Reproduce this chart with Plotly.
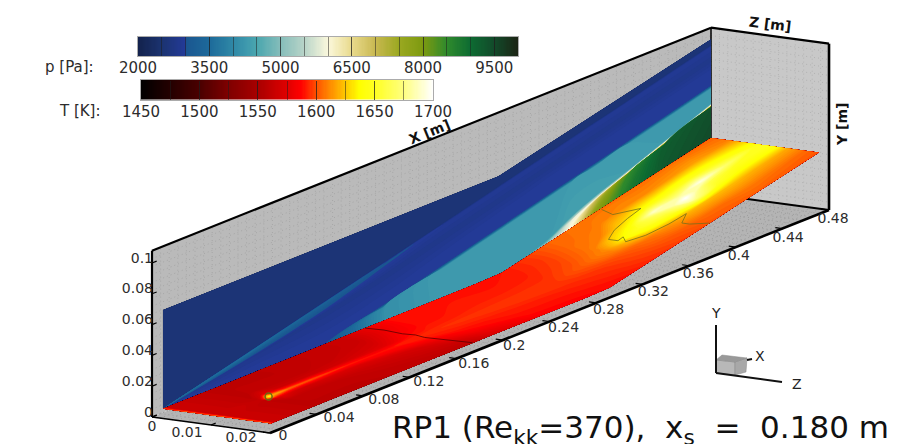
import numpy as np
import plotly.graph_objects as go

# ---------- colour tables (value, colour) ----------
P_MIN, P_MAX = 2000, 10000
T_MIN, T_MAX = 1450, 1700
P_STOPS = [(2000, "#13224c"), (2500, "#1b3370"), (3000, "#233a98"), (3001, "#1a5590"), (3500, "#1d6a9a"),
           (4000, "#2f88a6"), (4300, "#3f9aae"), (4500, "#4aa6ae"), (5000, "#85bdba"), (5500, "#b8d4c8"),
           (6000, "#fbf8dc"), (6500, "#e9da8c"), (7000, "#c8b850"), (7500, "#9aa820"), (8000, "#7d9a10"),
           (8500, "#2f8a2c"), (9000, "#0d6b32"), (9500, "#124a2a"), (10000, "#1c2414")]
T_STOPS = [(1450, "#000000"), (1475, "#240000"), (1500, "#4a0000"), (1525, "#7f0000"), (1550, "#a80000"),
           (1575, "#e00000"), (1587, "#ff0000"), (1600, "#ff5000"), (1612, "#ff8c00"), (1625, "#ffc800"),
           (1637, "#ffff00"), (1650, "#ffff20"), (1675, "#ffff80"), (1700, "#ffffff")]

# ---------- box and surface geometry (metres) ----------
BOX_X = 0.48
BOX_Y = 0.108
BOX_Z = 0.02
FLOOR_X_KNOTS = [0.0094, 0.2975, 0.48]
FLOOR_Y_KNOTS = [0.0025, 0.0025, 0.0364]

# ---------- wall slice: pressure along X stations, rows from the floor to the slice top ----------
WALL_X = [0.0094, 0.08, 0.15, 0.20, 0.25, 0.2975, 0.32, 0.34, 0.36, 0.38, 0.41, 0.44, 0.48]
WALL_Y = [
    [.00250, .0025, .0025, .0025, .0025, .0025, .0067, .0104, .0141, .0179, .0234, .0290, .0364],
    [.00251, .0026, .0026, .0026, .0026, .0026, .0068, .0107, .0155, .0250, .0348, .0440, .0562],
    [.00252, .0027, .0027, .0027, .0027, .0027, .0069, .0113, .0185, .0262, .0358, .0452, .0574],
    [.00253, .0028, .0028, .0028, .0028, .0028, .0071, .0130, .0215, .0285, .0372, .0463, .0586],
    [.00254, .0030, .0031, .0110, .0212, .0309, .0355, .0396, .0437, .0478, .0540, .0601, .0683],
    [.00255, .0031, .0032, .0130, .0232, .0329, .0375, .0416, .0457, .0498, .0560, .0621, .0703],
    [.00256, .0066, .0110, .0200, .0320, .0430, .0480, .0530, .0570, .0610, .0670, .0730, .0810],
    [.00257, .0120, .0230, .0315, .0412, .0505, .0550, .0590, .0630, .0670, .0730, .0790, .0870],
    [.00258, .0160, .0298, .0396, .0495, .0590, .0635, .0676, .0716, .0756, .0816, .0876, .0956],
    [.00259, .0166, .0307, .0407, .0507, .0602, .0647, .0688, .0728, .0768, .0828, .0888, .0968],
    [.0666, .0666, .0666, .0666, .0666, .0666, .0708, .0745, .0782, .0820, .0875, .0931, .1005],
]
WALL_P = [
    [3000, 3000, 3000, 4100, 4350, 4350, 4500, 5600, 6000, 7800, 8800, 9300, 9500],
    [3000, 3000, 3000, 4100, 4350, 4350, 4500, 5200, 6000, 7000, 8500, 9200, 9400],
    [3000, 3000, 3000, 4100, 4350, 4350, 4400, 4900, 5900, 6000, 6000, 6000, 6000],
    [3000, 3000, 3000, 4100, 4300, 4300, 4300, 4300, 4400, 4400, 4350, 4300, 4300],
    [3000, 3000, 3000, 4100, 4300, 4300, 4300, 4300, 4300, 4300, 4300, 4300, 4300],
    [3000, 3000, 3000, 3000, 3000, 3000, 3000, 3000, 3000, 3000, 3000, 3000, 3000],
    [2950, 2950, 2950, 2950, 2950, 2950, 2950, 2950, 2950, 2950, 2950, 2950, 2950],
    [2850, 2850, 2820, 2820, 2820, 2820, 2820, 2820, 2820, 2820, 2820, 2820, 2820],
    [3700, 3600, 3300, 3050, 2950, 2950, 2950, 2950, 2950, 2950, 2950, 2950, 2950],
    [2560, 2560, 2560, 2560, 2560, 2560, 2560, 2560, 2560, 2560, 2560, 2560, 2560],
    [2560, 2560, 2560, 2560, 2560, 2560, 2560, 2560, 2560, 2560, 2560, 2560, 2560],
]

# ---------- floor slice: temperature, one row per Z, one column per X ----------
FLOOR_X = [0.0094, 0.012, 0.02, 0.045, 0.052, 0.056, 0.07, 0.09, 0.12, 0.16, 0.18, 0.20, 0.24, 0.28, 0.30,
           0.32, 0.34, 0.355, 0.37, 0.39, 0.41, 0.43, 0.45, 0.48]
FLOOR_Z = [0.0, 0.003, 0.006, 0.008, 0.0095, 0.011, 0.013, 0.016, 0.0183]
FLOOR_T = [
    [1605, 1565, 1565, 1560, 1560, 1560, 1560, 1560, 1562, 1565, 1578, 1588, 1590, 1590, 1590, 1596, 1604, 1606, 1607, 1607, 1606, 1606, 1606, 1604],
    [1605, 1565, 1565, 1560, 1560, 1560, 1560, 1560, 1562, 1565, 1578, 1588, 1590, 1590, 1591, 1596, 1605, 1607, 1609, 1612, 1612, 1614, 1616, 1610],
    [1605, 1565, 1565, 1560, 1560, 1561, 1561, 1561, 1563, 1570, 1583, 1589, 1591, 1592, 1593, 1598, 1607, 1610, 1625, 1640, 1645, 1650, 1645, 1632],
    [1605, 1565, 1565, 1560, 1568, 1575, 1566, 1566, 1568, 1575, 1588, 1591, 1593, 1594, 1595, 1600, 1609, 1628, 1640, 1690, 1675, 1695, 1672, 1645],
    [1605, 1565, 1565, 1563, 1640, 1620, 1605, 1600, 1592, 1590, 1592, 1594, 1595, 1596, 1596, 1602, 1611, 1635, 1650, 1665, 1700, 1660, 1650, 1650],
    [1605, 1565, 1565, 1560, 1568, 1575, 1568, 1570, 1572, 1585, 1590, 1592, 1594, 1595, 1595, 1600, 1609, 1622, 1640, 1650, 1680, 1650, 1640, 1640],
    [1605, 1565, 1565, 1560, 1560, 1561, 1561, 1562, 1565, 1570, 1580, 1589, 1591, 1592, 1593, 1596, 1601, 1606, 1612, 1620, 1622, 1622, 1620, 1618],
    [1605, 1565, 1565, 1560, 1560, 1560, 1560, 1560, 1561, 1564, 1566, 1578, 1589, 1589, 1590, 1593, 1597, 1600, 1602, 1605, 1606, 1608, 1607, 1605],
    [1605, 1570, 1565, 1560, 1560, 1560, 1560, 1560, 1560, 1560, 1560, 1570, 1584, 1587, 1588, 1590, 1594, 1596, 1598, 1601, 1602, 1603, 1602, 1601],
]

# ---------- contour lines on the floor ----------
TRANSITION_X = [0.183, 0.184, 0.182, 0.183, 0.181, 0.182, 0.183]
TRANSITION_Z = [0.0, 0.003, 0.0065, 0.0085, 0.0105, 0.014, 0.0182]
HOT_X = [.385, .381, .392, .379, .364, .353, .353, .358, .353, .363, .379, .393, .382, .382, .386]
HOT_Z = [.0002, .0029, .0055, .0058, .0065, .0077, .0093, .0092, .0106, .012, .0128, .013, .0144, .0157, .0183]
TRIP_X = [0.052]
TRIP_Z = [0.0095]

# ---------- axis labels ----------
X_TICKS = [0, 0.04, 0.08, 0.12, 0.16, 0.2, 0.24, 0.28, 0.32, 0.36, 0.4, 0.44, 0.48]
Y_TICKS = [0, 0.02, 0.04, 0.06, 0.08, 0.1]
Z_TICKS = [0, 0.01, 0.02]
P_TICKS = [2000, 3500, 5000, 6500, 8000, 9500]
T_TICKS = [1450, 1500, 1550, 1600, 1650, 1700]
TITLE = "RP1 (Re<sub>kk</sub>=370),\u00a0 x<sub>s</sub> \u00a0=\u00a0 0.180 m"

FONT = "DejaVu Sans"
W, H = 904, 444


def project(X, Y, Z):
    """Oblique view of the measuring box on the page."""
    X, Y, Z = np.broadcast_arrays(np.asarray(X, float), np.asarray(Y, float), np.asarray(Z, float))
    return 152 + X * 1164.6 + Z * 5900, 417 - X * 464.6 + Z * 800 - Y * 1540


def norm_scale(stops, lo, hi):
    return [[(v - lo) / (hi - lo), c] for v, c in stops]


def path_of(pts, close=True):
    xs, ys = project(*np.array(pts).T)
    s = "M" + " L".join(f"{a:.1f},{b:.1f}" for a, b in zip(xs, ys))
    return s + (" Z" if close else "")


def face(pts, color):
    return dict(type="path", xref="x", yref="y", layer="below", path=path_of(pts), fillcolor=color, line=dict(width=0))


def back_edge(p, q, width):
    return dict(type="path", xref="x", yref="y", layer="below", path=path_of([p, q], False), line=dict(color="#000", width=width))


def dotted(lines, color):
    return dict(type="path", xref="x", yref="y", layer="below", path=" ".join(path_of(l, False) for l in lines),
                line=dict(color=color, width=1, dash="1px,3px"))


def seg(p, q, width=2.0, color="#000000"):
    xs, ys = project(*np.array([p, q]).T)
    return go.Scatter(x=xs, y=ys, mode="lines", line=dict(color=color, width=width), hoverinfo="skip", showlegend=False)


def labels(xs, ys, texts, pos, size=14, color="#2c2c2c"):
    return go.Scatter(x=xs, y=ys, text=texts, mode="text", textposition=pos, cliponaxis=False,
                      textfont=dict(family=FONT, size=size, color=color), hoverinfo="skip", showlegend=False)


fig = go.Figure()

# dotted mesh on the faces
gx = np.linspace(0, BOX_X, 66)
gy = np.linspace(0, BOX_Y, 22)
gz = np.linspace(0, BOX_Z, 15)
wall_lines = [((x, 0, 0), (x, BOX_Y, 0)) for x in gx] + [((0, y, 0), (BOX_X, y, 0)) for y in gy]
right_lines = [((BOX_X, 0, z), (BOX_X, BOX_Y, z)) for z in gz] + [((BOX_X, y, 0), (BOX_X, y, BOX_Z)) for y in gy]
floor_lines = [((x, 0, 0), (x, 0, BOX_Z)) for x in gx] + [((0, 0, z), (BOX_X, 0, z)) for z in gz]

below_shapes = [
    face([(0, 0, 0), (BOX_X, 0, 0), (BOX_X, BOX_Y, 0), (0, BOX_Y, 0)], "#bababa"),
    face([(BOX_X, 0, 0), (BOX_X, 0, BOX_Z), (BOX_X, BOX_Y, BOX_Z), (BOX_X, BOX_Y, 0)], "#c8c8c8"),
    face([(0, 0, 0), (0, 0, BOX_Z), (BOX_X, 0, BOX_Z), (BOX_X, 0, 0)], "#b4b4b4"),
    dotted(wall_lines, "#a6a6a6"),
    dotted(right_lines, "#b2b2b2"),
    dotted(floor_lines, "#9c9c9c"),
    back_edge((BOX_X, 0, 0), (BOX_X, 0, BOX_Z), 2),
    back_edge((BOX_X, 0, 0), (BOX_X, BOX_Y, 0), 1.5),
    back_edge((0, 0, 0), (0, 0, BOX_Z), 1.5),
]

# wall slice (pressure)
wx, wy = project(np.array([WALL_X] * len(WALL_Y)), np.array(WALL_Y), 0.0)
row_index = list(range(len(WALL_Y)))
hidden_axis = dict(smoothing=0, showgrid=False, showline=False, showticklabels="none",
                   startline=False, endline=False, minorgridcount=0)
fig.add_trace(go.Carpet(carpet="wall", a=WALL_X, b=row_index, x=wx.tolist(), y=wy.tolist(),
                        aaxis=hidden_axis, baxis=hidden_axis))
fig.add_trace(go.Contourcarpet(carpet="wall", a=WALL_X, b=row_index, z=WALL_P, autocontour=False,
                               zmin=P_MIN, zmax=P_MAX, colorscale=norm_scale(P_STOPS, P_MIN, P_MAX),
                               contours=dict(start=2000, end=10000, size=50, coloring="fill", showlines=False),
                               line=dict(width=0), showscale=False))

# floor slice (temperature)
fy_line = np.interp(FLOOR_X, FLOOR_X_KNOTS, FLOOR_Y_KNOTS)
XX, ZZ = np.meshgrid(FLOOR_X, FLOOR_Z)
YY = np.tile(fy_line, (len(FLOOR_Z), 1))
fx, fy = project(XX, YY, ZZ)
fig.add_trace(go.Carpet(carpet="floor", a=FLOOR_X, b=FLOOR_Z, x=fx.tolist(), y=fy.tolist(),
                        aaxis=hidden_axis, baxis=hidden_axis))
fig.add_trace(go.Contourcarpet(carpet="floor", a=FLOOR_X, b=FLOOR_Z, z=FLOOR_T, autocontour=False,
                               zmin=T_MIN, zmax=T_MAX, colorscale=norm_scale(T_STOPS, T_MIN, T_MAX),
                               contours=dict(start=1450, end=1700, size=2, coloring="fill", showlines=False),
                               line=dict(width=0), showscale=False))

# contour lines
for cx, cz, col in [(TRANSITION_X, TRANSITION_Z, "#5a0000"), (HOT_X, HOT_Z, "#77701a")]:
    sx, sy = project(cx, np.interp(cx, FLOOR_X_KNOTS, FLOOR_Y_KNOTS), cz)
    fig.add_trace(go.Scatter(x=sx, y=sy, mode="lines", line=dict(color=col, width=0.8), hoverinfo="skip", showlegend=False))
sx, sy = project(TRIP_X, np.interp(TRIP_X, FLOOR_X_KNOTS, FLOOR_Y_KNOTS), TRIP_Z)
fig.add_trace(go.Scatter(x=sx, y=sy, mode="markers", marker=dict(symbol="circle-open", size=7, color="#6b6b10", line=dict(width=1.5)),
                         hoverinfo="skip", showlegend=False))

# front edges of the box
fig.add_trace(seg((0, BOX_Y, 0), (BOX_X, BOX_Y, 0), 2.2))
fig.add_trace(seg((BOX_X, BOX_Y, 0), (BOX_X, BOX_Y, BOX_Z), 2.2))
fig.add_trace(seg((BOX_X, BOX_Y, BOX_Z), (BOX_X, 0, BOX_Z), 2.6))
fig.add_trace(seg((0, BOX_Y, 0), (0, 0, 0), 2.2))
fig.add_trace(seg((0, 0, BOX_Z), (BOX_X, 0, BOX_Z), 2.6))

# tick marks and labels
for v in X_TICKS:
    fig.add_trace(seg((v, 0, BOX_Z), (v, 0, BOX_Z - 0.0012), 1.2))
for v in Y_TICKS:
    fig.add_trace(seg((0, v, 0), (0.004, v, 0), 1.2))
for v in Z_TICKS:
    fig.add_trace(seg((0, 0, v), (0.004, 0, v), 1.2))

tx, ty = project(X_TICKS, 0.0, BOX_Z)
frac = np.array(X_TICKS) / BOX_X
fig.add_trace(labels(tx + 8.5 - 20 * frac, ty + 3.5 + 6.5 * frac, [f"{v:g}" for v in X_TICKS], "middle right"))
ax_, ay_ = project(0.0, Y_TICKS, 0.0)
fig.add_trace(labels(ax_ + 1, ay_ - 4, [f"{v:g}" for v in Y_TICKS], "middle left"))
zx_, zy_ = project(0.0, 0.0, Z_TICKS)
fig.add_trace(labels(zx_ + np.array([0, -24, -29]), zy_ + np.array([10, 8, 5]), [f"{v:g}" for v in Z_TICKS], "middle center"))

# colour legends on their own value axes
p_lv = np.arange(P_MIN + 12.5, P_MAX, 25)
t_lv = np.arange(T_MIN + 0.5, T_MAX, 1)
fig.add_trace(go.Heatmap(x=p_lv, y=[0, 1], z=[p_lv, p_lv], zmin=P_MIN, zmax=P_MAX, xaxis="x2", yaxis="y2",
                         colorscale=norm_scale(P_STOPS, P_MIN, P_MAX), showscale=False, hoverinfo="skip"))
fig.add_trace(go.Heatmap(x=t_lv, y=[0, 1], z=[t_lv, t_lv], zmin=T_MIN, zmax=T_MAX, xaxis="x3", yaxis="y3",
                         colorscale=norm_scale(T_STOPS, T_MIN, T_MAX), showscale=False, hoverinfo="skip"))


def bar_x(lo, hi, ticks, step, left, right, anchor):
    return dict(domain=[left / W, right / W], range=[lo, hi], anchor=anchor, tickvals=ticks, ticks="inside", ticklen=19,
                tickcolor="rgba(30,30,30,0.5)", tickwidth=1, layer="above traces", showgrid=False, zeroline=False,
                showline=True, linecolor="#ababab", linewidth=1, mirror=True, ticklabelstandoff=-2,
                tickfont=dict(family=FONT, size=15, color="#2c2c2c"),
                minor=dict(dtick=step, tick0=lo, ticks="inside", ticklen=19, tickcolor="rgba(30,30,30,0.5)", tickwidth=1))


def bar_y(top, bottom, anchor):
    return dict(domain=[1 - bottom / H, 1 - top / H], range=[-0.5, 1.5], anchor=anchor, showticklabels=False, ticks="",
                showgrid=False, zeroline=False, showline=True, linecolor="#ababab", linewidth=1, mirror=True)


fig.update_layout(
    width=W, height=H, margin=dict(l=0, r=0, t=0, b=0, autoexpand=False), paper_bgcolor="white", plot_bgcolor="rgba(0,0,0,0)",
    showlegend=False, font=dict(family=FONT),
    xaxis=dict(range=[0, W], visible=False, domain=[0, 1], fixedrange=True),
    yaxis=dict(range=[H, 0], visible=False, domain=[0, 1], fixedrange=True),
    xaxis2=bar_x(P_MIN, P_MAX, P_TICKS, 500, 138, 518, "y2"),
    yaxis2=bar_y(37, 56, "x2"),
    xaxis3=bar_x(T_MIN, T_MAX, T_TICKS, 25, 141, 433, "y3"),
    yaxis3=bar_y(80, 99.5, "x3"),
    annotations=[
        dict(text="p [Pa]:", x=96, y=67, xanchor="right", showarrow=False, xref="x", yref="y",
             font=dict(family=FONT, size=15, color="#2c2c2c")),
        dict(text="T [K]:", x=103, y=111, xanchor="right", showarrow=False, xref="x", yref="y",
             font=dict(family=FONT, size=15, color="#2c2c2c")),
        dict(text="<b>X [m]</b>", x=429, y=132, textangle=-22, showarrow=False, xref="x", yref="y",
             font=dict(family=FONT, size=14, color="#111")),
        dict(text="<b>Z [m]</b>", x=770, y=24, textangle=7, showarrow=False, xref="x", yref="y",
             font=dict(family=FONT, size=14, color="#111")),
        dict(text="<b>Y [m]</b>", x=842, y=125, textangle=-90, showarrow=False, xref="x", yref="y",
             font=dict(family=FONT, size=14, color="#111")),
        dict(text="Y", x=716, y=313, showarrow=False, xref="x", yref="y", font=dict(family=FONT, size=14, color="#222")),
        dict(text="X", x=760, y=356, showarrow=False, xref="x", yref="y", font=dict(family=FONT, size=14, color="#222")),
        dict(text="Z", x=797, y=384, showarrow=False, xref="x", yref="y", font=dict(family=FONT, size=14, color="#222")),
        dict(text=TITLE, x=390, y=429, xanchor="left", showarrow=False, xref="x", yref="y",
             font=dict(family=FONT, size=31, color="#111")),
    ],
    shapes=below_shapes + [
        dict(type="path", xref="x", yref="y", path="M716,360 L735,362 L735,375 L716,373 Z", fillcolor="#b8b8b8", line=dict(width=0.5, color="#888")),
        dict(type="path", xref="x", yref="y", path="M735,362 L747,358 L746,372 L735,375 Z", fillcolor="#a8a8a8", line=dict(width=0.5, color="#888")),
        dict(type="path", xref="x", yref="y", path="M716,360 L722,355 L747,358 L735,362 Z", fillcolor="#999999", line=dict(width=0.5, color="#888")),
        dict(type="line", xref="x", yref="y", x0=716, y0=325, x1=716, y1=373, line=dict(color="#111", width=2)),
        dict(type="line", xref="x", yref="y", x0=716, y0=373, x1=782, y1=382, line=dict(color="#111", width=2)),
        dict(type="line", xref="x", yref="y", x0=747, y0=360, x1=752, y1=359, line=dict(color="#111", width=2)),
    ],
)

fig.write_html("out.html", config={"displayModeBar": False},
               post_script="document.body.style.margin='0';document.body.style.overflow='hidden';")
